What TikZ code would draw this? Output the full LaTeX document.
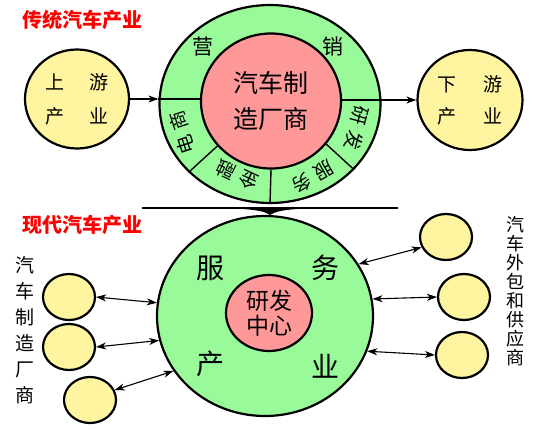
\documentclass[tikz,border=0pt]{standalone}
\usepackage{fontspec}
\setmainfont{Noto Sans CJK SC}
\usetikzlibrary{shapes.geometric,arrows.meta}
\definecolor{ringgreen}{RGB}{153,250,153}
\definecolor{corepink}{RGB}{255,153,153}
\definecolor{sideyellow}{RGB}{255,245,160}
\definecolor{titlered}{RGB}{255,0,0}
\begin{document}
\begin{tikzpicture}[x=1pt,y=-1pt,
  ringnode/.style={ellipse, draw, line width=2.2pt, fill=ringgreen, inner sep=0pt},
  corenode/.style={ellipse, draw, line width=2.2pt, fill=corepink, inner sep=0pt, align=center},
  sidenode/.style={ellipse, draw, line width=2.2pt, fill=sideyellow, inner sep=0pt, align=center},
  smallnode/.style={ellipse, draw, line width=2.2pt, fill=sideyellow, minimum width=52pt, minimum height=46pt},
  divline/.style={line width=1.4pt},
  onearrow/.style={line width=1.1pt, -{Stealth[length=10pt,width=7pt,inset=3pt]}},
  twoarrow/.style={line width=1.1pt, {Stealth[length=10pt,width=7pt,inset=3pt]}-{Stealth[length=10pt,width=7pt,inset=3pt]}},
  titletext/.style={font=\fontsize{20}{20}\selectfont\bfseries, text=titlered, inner sep=0pt},
  ringtext/.style={font=\fontsize{19}{19}\selectfont, inner sep=0pt},
  bigtext/.style={font=\fontsize{28}{28}\selectfont, inner sep=0pt},
  vlabel/.style={align=center, inner sep=0pt}
]
\useasboundingbox (0,0) rectangle (541,429);

% ---------- traditional ----------
\node[titletext] (titleA) at (82,20) {传统汽车产业};

\node[ringnode, minimum width=221pt, minimum height=198pt] (outerA) at (270,104) {};
\node[corenode, minimum width=140pt, minimum height=135pt,
      font=\fontsize{25}{36}\selectfont] (innerA) at (271,101) {汽车制\\造厂商};

\draw[divline] (innerA.220) -- (outerA.220);
\draw[divline] (innerA.270) -- (outerA.270);
\draw[divline] (innerA.322) -- (outerA.322);

\node[ringtext, font=\fontsize{21}{21}\selectfont] (ying) at (203,47) {营};
\node[ringtext, font=\fontsize{21}{21}\selectfont] (xiao) at (333,47) {销};
\node[ringtext, rotate=108] (ds) at (182,133) {电\hspace{6pt}商};
\node[ringtext, rotate=155] (jr) at (237,175) {金\hspace{6pt}融};
\node[ringtext, rotate=210] (fw) at (313,177) {服\hspace{6pt}务};
\node[ringtext, rotate=255] (yf) at (357,128) {研\hspace{6pt}发};

\node[sidenode, minimum width=104pt, minimum height=99pt,
      font=\fontsize{19}{34}\selectfont] (up) at (77,99) {上\hspace{26pt}游\\产\hspace{26pt}业};
\node[sidenode, minimum width=105pt, minimum height=100pt,
      font=\fontsize{19}{32}\selectfont] (down) at (470,100) {下\hspace{28pt}游\\产\hspace{28pt}业};

\draw[onearrow] (up.east) -- (up.east -| outerA.west);
\draw[divline] (up.east -| outerA.west) -- (up.east -| innerA.west);
\draw[divline] (down.west -| innerA.east) -- (down.west -| outerA.east);
\draw[onearrow] (down.west -| outerA.east) -- (down.west);

% ---------- separator ----------
\coordinate (barL) at (142,208);
\coordinate (barR) at (398,208);
\coordinate (barTip) at (270,215);
\draw[line width=2.5pt] (barL) -- (barR);
\fill (243,209) .. controls (258,210) and (266,212) .. (barTip)
      .. controls (274,212) and (282,210) .. (297,209) -- cycle;

% ---------- modern ----------
\node[titletext] (titleB) at (82,225) {现代汽车产业};

\node[ringnode, minimum width=216pt, minimum height=200pt] (bigB) at (265,316) {};
\node[corenode, minimum width=86pt, minimum height=76pt,
      font=\fontsize{23}{25}\selectfont] (coreB) at (269,313) {研发\\中心};

\node[bigtext] (fu) at (210,268) {服};
\node[bigtext] (wu) at (325,268) {务};
\node[bigtext] (chan) at (210,364) {产};
\node[bigtext] (ye) at (325,366) {业};

\node[smallnode] (l1) at (69,297) {};
\node[smallnode] (l2) at (69,347) {};
\node[smallnode] (l3) at (90,400) {};
\node[smallnode] (r1) at (446,237) {};
\node[smallnode] (r2) at (464,297) {};
\node[smallnode] (r3) at (462,355) {};

\draw[twoarrow] (l1.east) -- (bigB.173);
\draw[twoarrow] (l2.east) -- (bigB.193);
\draw[twoarrow] (l3.22) -- (bigB.211);
\draw[twoarrow] (bigB.29) -- (r1.203);
\draw[twoarrow] (bigB.9) -- (r2.west);
\draw[twoarrow] (bigB.341) -- (r3.west);

\node[vlabel, font=\fontsize{19}{26}\selectfont] (makers) at (25,330)
  {汽\\车\\制\\造\\厂\\商};
\node[vlabel, font=\fontsize{18}{19}\selectfont] (suppliers) at (515,291)
  {汽\\车\\外\\包\\和\\供\\应\\商};
\end{tikzpicture}
\end{document}
